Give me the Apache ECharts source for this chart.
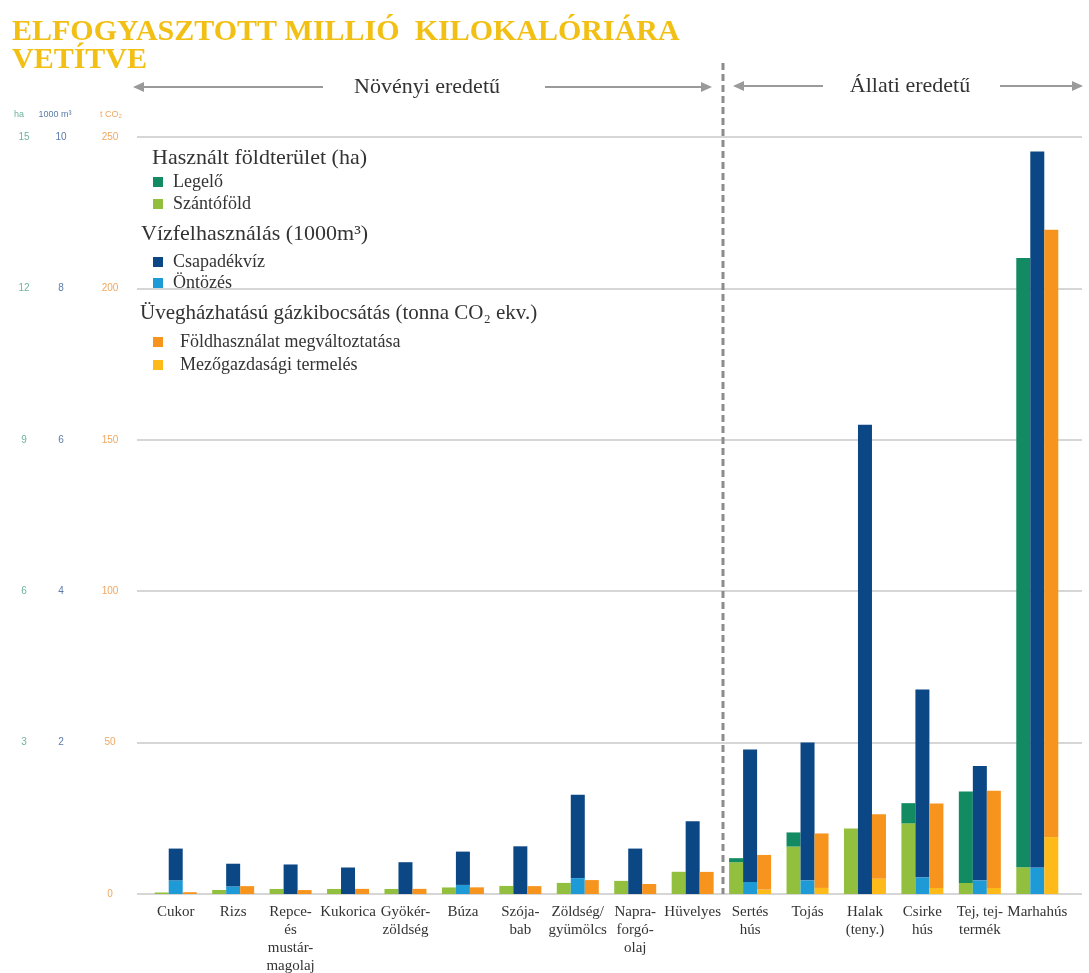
<!DOCTYPE html>
<html>
<head>
<meta charset="utf-8">
<script src="https://cdn.jsdelivr.net/npm/echarts@6/dist/echarts.min.js"></script>
<style>
  html, body { margin: 0; padding: 0; background: #fff; }
  #chart { width: 1089px; height: 973px; }
</style>
</head>
<body>
<div id="chart"></div>
<script>
// kategóriák
const categories = [
  'Cukor', 'Rizs', 'Repce-\nés\nmustár-\nmagolaj', 'Kukorica', 'Gyökér-\nzöldség',
  'Búza', 'Szója-\nbab', 'Zöldség/\ngyümölcs', 'Napra-\nforgó-\nolaj', 'Hüvelyes',
  'Sertés\nhús', 'Tojás', 'Halak\n(teny.)', 'Csirke\nhús', 'Tej, tej-\ntermék', 'Marhahús'
];

// földterület (ha)
const arableLand  = [0.03, 0.08, 0.10, 0.10, 0.10, 0.13, 0.16, 0.22, 0.26, 0.44, 0.63, 0.94, 1.30, 1.40, 0.22, 0.53];
const pastureLand = [0, 0, 0, 0, 0, 0, 0, 0, 0, 0, 0.08, 0.28, 0, 0.40, 1.81, 12.07];

// vízfelhasználás (1000 m3)
const irrigationWater = [0.18, 0.10, 0, 0, 0, 0.12, 0, 0.21, 0, 0, 0.16, 0.18, 0, 0.22, 0.18, 0.35];
const rainWater       = [0.42, 0.30, 0.39, 0.35, 0.42, 0.44, 0.63, 1.10, 0.60, 0.96, 1.75, 1.82, 6.20, 2.48, 1.51, 9.46];

// üvegházhatású gázok (t CO2 ekv.)
const farmingGhg = [0, 0, 0, 0, 0, 0, 0, 0, 0, 0, 1.5, 2, 5, 2, 2, 18.8];
const landUseGhg = [0.6, 2.6, 1.3, 1.7, 1.7, 2.2, 2.6, 4.6, 3.3, 7.3, 11.4, 18, 21.3, 27.9, 32.1, 200.6];

// tengely feliratok
const haTicks = [0, 3, 6, 9, 12, 15];
const waterTicks = [0, 2, 4, 6, 8, 10];
const ghgTicks = [0, 50, 100, 150, 200, 250];

const SERIF = '"Liberation Serif", "DejaVu Serif", serif';
const SANS = '"Liberation Sans", Arial, sans-serif';

const colors = {
  pasture: '#128B62',
  arable: '#92C03E',
  rain: '#0B4784',
  irrigation: '#1E9BD7',
  landUse: '#F7941D',
  farming: '#FDBA18'
};

function tickAxis(ticks, color, margin, showZero) {
  return {
    type: 'value',
    gridIndex: 0,
    position: 'left',
    min: ticks[0],
    max: ticks[ticks.length - 1],
    interval: ticks[1] - ticks[0],
    axisLine: { show: false },
    axisTick: { show: false },
    splitLine: { show: false },
    axisLabel: {
      color: color,
      fontFamily: SANS,
      fontSize: 10,
      margin: margin,
      align: 'center',
      formatter: v => (v === 0 && !showZero) ? '' : String(v)
    }
  };
}

function barSeries(name, data, stack, yAxisIndex, color) {
  return {
    name: name,
    type: 'bar',
    stack: stack,
    xAxisIndex: 0,
    yAxisIndex: yAxisIndex,
    data: data,
    barWidth: 14,
    barGap: '0%',
    itemStyle: { color: color },
    emphasis: { disabled: true }
  };
}

function legendBlock(names, top, gap, padLeft) {
  return {
    orient: 'vertical',
    left: 153,
    top: top,
    padding: 0,
    itemGap: gap,
    itemWidth: 10,
    itemHeight: 10,
    icon: 'rect',
    data: names,
    textStyle: { fontFamily: SERIF, fontSize: 18, color: '#333', padding: [0, 0, 0, padLeft] }
  };
}

function arrow(x1, x2, y) {
  // x2 a nyílhegy helye
  const dir = x2 > x1 ? 1 : -1;
  return [
    { type: 'line', shape: { x1: x1, y1: y, x2: x2 - dir * 8, y2: y }, style: { stroke: '#9a9a9a', lineWidth: 2 } },
    { type: 'polygon', shape: { points: [[x2, y], [x2 - dir * 11, y - 5], [x2 - dir * 11, y + 5]] }, style: { fill: '#9a9a9a' } }
  ];
}

const chart = echarts.init(document.getElementById('chart'));

const option = {
  backgroundColor: '#fff',
  animation: false,
  grid: [
    { left: 147, right: 23, top: 137, bottom: 79, outerBoundsMode: 'none' },
    { left: 137, right: 7, top: 137, bottom: 79, outerBoundsMode: 'none' }
  ],
  xAxis: [
    {
      type: 'category',
      gridIndex: 0,
      data: categories,
      axisLine: { show: false },
      axisTick: { show: false },
      axisLabel: {
        interval: 0,
        margin: 9,
        fontFamily: SERIF,
        fontSize: 15,
        lineHeight: 18,
        color: '#333',
        verticalAlign: 'top'
      }
    },
    { type: 'value', gridIndex: 1, min: 0, max: 1, show: false }
  ],
  yAxis: [
    tickAxis(haTicks, '#6fb3a0', 123, false),
    tickAxis(waterTicks, '#5b7aa8', 86, false),
    tickAxis(ghgTicks, '#f0a860', 37, true),
    {
      type: 'value',
      gridIndex: 1,
      min: ghgTicks[0],
      max: ghgTicks[ghgTicks.length - 1],
      interval: ghgTicks[1] - ghgTicks[0],
      axisLine: { show: false },
      axisTick: { show: false },
      axisLabel: { show: false },
      splitLine: { lineStyle: { color: '#c8c8c8', width: 1.5 } }
    }
  ],
  legend: [
    legendBlock(['Legelő', 'Szántóföld'], 173, 4, 5),
    legendBlock(['Csapadékvíz', 'Öntözés'], 253, 3, 5),
    legendBlock(['Földhasználat megváltoztatása', 'Mezőgazdasági termelés'], 333, 5, 12)
  ],
  series: [
    barSeries('Szántóföld', arableLand, 'land', 0, colors.arable),
    barSeries('Legelő', pastureLand, 'land', 0, colors.pasture),
    barSeries('Öntözés', irrigationWater, 'water', 1, colors.irrigation),
    barSeries('Csapadékvíz', rainWater, 'water', 1, colors.rain),
    barSeries('Mezőgazdasági termelés', farmingGhg, 'ghg', 2, colors.farming),
    barSeries('Földhasználat megváltoztatása', landUseGhg, 'ghg', 2, colors.landUse)
  ],
  graphic: [
    // cím
    {
      type: 'text', left: 12, top: 17,
      style: {
        text: 'ELFOGYASZTOTT MILLIÓ  KILOKALÓRIÁRA\nVETÍTVE',
        font: 'bold 30px ' + SERIF, fill: '#F2C014', lineHeight: 28
      }
    },
    // szakasz feliratok
    { type: 'text', x: 427, y: 87, style: { text: 'Növényi eredetű', font: '22px ' + SERIF, fill: '#333', align: 'center', verticalAlign: 'middle' } },
    { type: 'text', x: 910, y: 86, style: { text: 'Állati eredetű', font: '22px ' + SERIF, fill: '#333', align: 'center', verticalAlign: 'middle' } },
    ...arrow(323, 133, 87),
    ...arrow(545, 712, 87),
    ...arrow(823, 733, 86),
    ...arrow(1000, 1083, 86),
    // elválasztó
    {
      type: 'line', z: 10,
      shape: { x1: 723, y1: 63, x2: 723, y2: 894 },
      style: { stroke: '#8c8c8c', lineWidth: 3, lineDash: [7, 4] }
    },
    // tengely fejlécek
    { type: 'text', x: 19, y: 115, style: { text: 'ha', font: '9px ' + SANS, fill: '#6fb3a0', align: 'center', verticalAlign: 'middle' } },
    { type: 'text', x: 55, y: 115, style: { text: '1000 m³', font: '9px ' + SANS, fill: '#5b7aa8', align: 'center', verticalAlign: 'middle' } },
    { type: 'text', x: 111, y: 115, style: { text: 't CO₂', font: '9px ' + SANS, fill: '#f0a860', align: 'center', verticalAlign: 'middle' } },
    // jelmagyarázat címek
    { type: 'text', x: 152, y: 158, style: { text: 'Használt földterület (ha)', font: '22px ' + SERIF, fill: '#333', verticalAlign: 'middle' } },
    { type: 'text', x: 141, y: 234, style: { text: 'Vízfelhasználás (1000m³)', font: '22px ' + SERIF, fill: '#333', verticalAlign: 'middle' } },
    { type: 'text', x: 140, y: 313, style: { text: 'Üvegházhatású gázkibocsátás (tonna CO₂ ekv.)', font: '21px ' + SERIF, fill: '#333', verticalAlign: 'middle' } }
  ]
};

chart.setOption(option);
</script>
</body>
</html>
